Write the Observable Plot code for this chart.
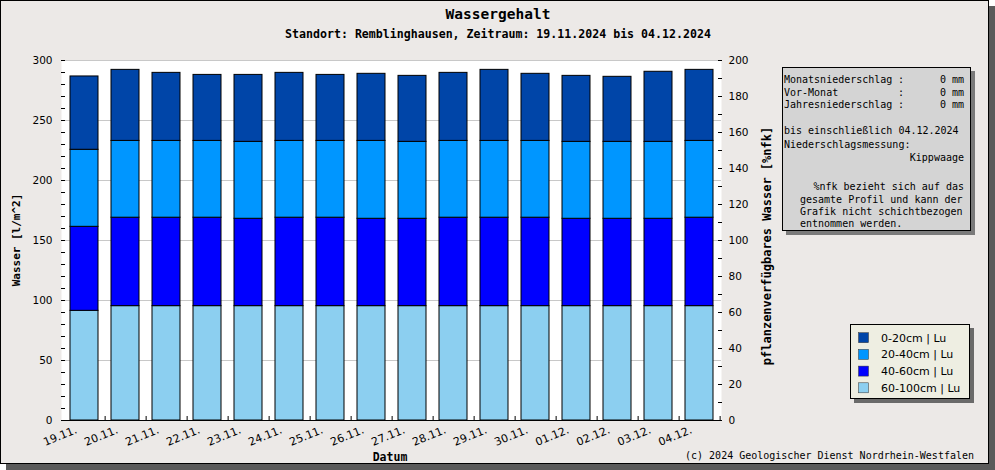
<!DOCTYPE html>
<html><head><meta charset="utf-8">
<script src="https://cdn.jsdelivr.net/npm/d3@7"></script>
<script src="https://cdn.jsdelivr.net/npm/@observablehq/plot@0.6"></script>
<style>body{margin:0;background:#fff} svg{display:block}</style>
</head><body><div id="chart"></div>
<script>
// ---- data ----
const dates = ["19.11.","20.11.","21.11.","22.11.","23.11.","24.11.","25.11.","26.11.","27.11.","28.11.","29.11.","30.11.","01.12.","02.12.","03.12.","04.12."];
const series = ["0-20cm | Lu","20-40cm | Lu","40-60cm | Lu","60-100cm | Lu"];
const colors = ["#0045a8","#0096ff","#0000ff","#8ccff0"];
const v60_100 = [91.4,95.3,95.3,95.3,95.3,95.3,95.3,95.3,95.3,95.3,95.3,95.3,95.3,95.3,95.3,95.3];
const v40_60  = [70.0,73.7,73.7,73.7,72.8,73.7,73.7,72.8,72.8,73.7,73.7,73.7,72.8,72.8,72.8,73.7];
const v20_40  = [64.2,64.0,64.0,64.0,64.1,64.0,64.0,64.9,64.1,64.0,64.0,64.0,64.1,64.1,64.1,64.0];
const v0_20   = [61.1,59.2,56.7,55.0,55.8,56.7,55.0,55.9,55.0,56.7,59.2,55.9,55.0,54.2,58.4,59.2];
const leftTicks = [0,50,100,150,200,250,300];
const rightTicks = [0,20,40,60,80,100,120,140,160,180,200];
const title = "Wassergehalt";
const subtitle = "Standort: Remblinghausen, Zeitraum: 19.11.2024 bis 04.12.2024";
const yLabelLeft = "Wasser [l/m^2]";
const yLabelRight = "pflanzenverfügbares Wasser [%nfk]";
const xLabel = "Datum";
const caption = "(c) 2024 Geologischer Dienst Nordrhein-Westfalen";
const precipRows = [["Monatsniederschlag",":","0 mm"],["Vor-Monat",":","0 mm"],["Jahresniederschlag",":","0 mm"]];
const infoText = ["bis einschließlich 04.12.2024","Niederschlagsmessung:","Kippwaage"];
const noteText = ["%nfk bezieht sich auf das","gesamte Profil und kann der","Grafik nicht schichtbezogen","entnommen werden."];

// ---- table (stack bottom first) ----
const layers = [[series[3], v60_100],[series[2], v40_60],[series[1], v20_40],[series[0], v0_20]];
const rows = [];
for (const [name, vals] of layers) dates.forEach((d, i) => rows.push({date: d, layer: name, value: vals[i]}));

const nfk = 1.5; // 200 %nfk = 300 l/m^2
const mono = "'DejaVu Sans Mono', monospace";

const plot = Plot.plot({
  width: 995, height: 470,
  marginLeft: 61, marginRight: 274, marginTop: 60, marginBottom: 50,
  style: {background: "transparent", fontFamily: "'DejaVu Sans', sans-serif", fontSize: "10.5px", color: "#000", overflow: "visible"},
  x: {domain: dates, paddingInner: 0.32, paddingOuter: 0.16, label: null},
  y: {domain: [0, 300], label: null},
  color: {domain: series, range: colors},
  marks: [
    Plot.frame({fill: "white", stroke: "none"}),
    Plot.gridY(leftTicks.filter(d => d > 0), {stroke: "#c8c8c8", strokeOpacity: 1}),
    Plot.barY(rows, {x: "date", y: "value", fill: "layer", stroke: "black", strokeWidth: 1}),
    Plot.ruleY([0], {stroke: "black"}),
    Plot.axisY(d3.range(0, 301, 10), {anchor: "left", tickSize: -4, tickPadding: 13, line: true, label: null,
      tickFormat: d => leftTicks.includes(d) ? String(d) : ""}),
    Plot.axisY(d3.range(0, 301, 15), {anchor: "right", tickSize: -4, tickPadding: 11, line: true, label: null,
      tickFormat: d => rightTicks.includes(Math.round(d / nfk)) ? String(Math.round(d / nfk)) : ""}),
    Plot.axisX({tickSize: -4, tickFormat: () => "", dx: 20.625, label: null}),
    Plot.axisX({tickSize: 0, tickPadding: 9, tickRotate: -22, dx: -8, fontSize: 11, label: null})
  ]
});

const svg = d3.select(plot);
const bg = svg.insert("g", ":first-child");
bg.append("rect").attr("x", 6).attr("y", 6).attr("width", 989).attr("height", 464).attr("fill", "#5a5a5a");
bg.append("rect").attr("x", 0.5).attr("y", 0.5).attr("width", 988).attr("height", 463).attr("fill", "#ece9e7").attr("stroke", "black");

const g = svg.append("g").attr("fill", "black").attr("text-anchor", "middle");
g.append("text").attr("x", 498).attr("y", 19)
  .style("font", `bold 14.5px ${mono}`).text(title);
g.append("text").attr("x", 498).attr("y", 38)
  .style("font", `bold 11.6px ${mono}`).text(subtitle);
g.append("text").attr("transform", "translate(20,240) rotate(-90)")
  .style("font", `bold 11px ${mono}`).text(yLabelLeft);
g.append("text").attr("transform", "translate(771,246) rotate(-90)")
  .style("font", `bold 12px ${mono}`).text(yLabelRight);
g.append("text").attr("x", 390).attr("y", 461)
  .style("font", `bold 11.5px ${mono}`).text(xLabel);
g.append("text").attr("x", 974).attr("y", 459).attr("text-anchor", "end")
  .style("font", `10px ${mono}`).text(caption);

// info box
const ib = svg.append("g").attr("fill", "black").attr("text-anchor", "start").style("font", `10px ${mono}`);
ib.append("rect").attr("x", 786).attr("y", 71).attr("width", 189).attr("height", 164).attr("fill", "#7a7a7a");
ib.append("rect").attr("x", 782.5).attr("y", 67.5).attr("width", 188).attr("height", 163).attr("fill", "#d4d4d4").attr("stroke", "black");
const pY = [83, 96, 108];
precipRows.forEach((r, i) => {
  ib.append("text").attr("x", 784).attr("y", pY[i]).text(r[0]);
  ib.append("text").attr("x", 898).attr("y", pY[i]).text(r[1]);
  ib.append("text").attr("x", 964).attr("y", pY[i]).attr("text-anchor", "end").text(r[2]);
});
ib.append("text").attr("x", 784).attr("y", 134).text(infoText[0]);
ib.append("text").attr("x", 784).attr("y", 148).text(infoText[1]);
ib.append("text").attr("x", 964).attr("y", 161).attr("text-anchor", "end").text(infoText[2]);
const nY = [190, 203, 215, 227];
noteText.forEach((t, i) => {
  if (i === 0) ib.append("text").attr("x", 964).attr("y", nY[i]).attr("text-anchor", "end").text(t);
  else ib.append("text").attr("x", 800).attr("y", nY[i]).text(t);
});

// legend
const lg = svg.append("g").attr("fill", "black").attr("text-anchor", "start").style("font", "11px 'DejaVu Sans', sans-serif");
lg.append("rect").attr("x", 854).attr("y", 328).attr("width", 120).attr("height", 75).attr("fill", "#6a6a6a");
lg.append("rect").attr("x", 850.5).attr("y", 324.5).attr("width", 119).attr("height", 74).attr("fill", "#eeeee2").attr("stroke", "black");
series.forEach((s, i) => {
  const cy = 337.7 + i * 16.7;
  lg.append("rect").attr("x", 858.5).attr("y", cy - 5).attr("width", 10).attr("height", 10)
    .attr("fill", colors[i]).attr("stroke", "#333").attr("stroke-width", 0.5);
  lg.append("text").attr("x", 881).attr("y", cy + 4).text(s);
});

document.getElementById("chart").appendChild(plot);
</script>
</body></html>
